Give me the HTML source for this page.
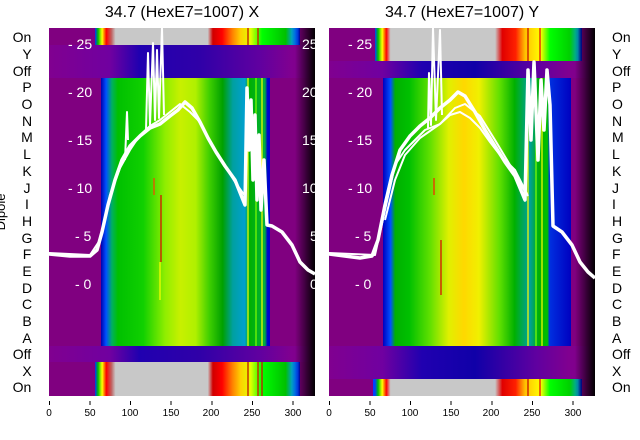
<!DOCTYPE html>
<html><head><meta charset="utf-8"><style>
body{margin:0;background:#fff;}
svg{display:block;font-family:"Liberation Sans","DejaVu Sans",sans-serif;}
</style></head><body>
<svg width="640" height="440" viewBox="0 0 640 440" xmlns="http://www.w3.org/2000/svg">
<defs>
<linearGradient id="lm" gradientUnits="userSpaceOnUse" x1="101" x2="270" y1="0" y2="0">
<stop offset="0" stop-color="#0000b0"/><stop offset="0.03" stop-color="#0050ff"/><stop offset="0.065" stop-color="#00b060"/><stop offset="0.1" stop-color="#00c000"/><stop offset="0.25" stop-color="#10d000"/><stop offset="0.38" stop-color="#90ee00"/><stop offset="0.47" stop-color="#c8f000"/><stop offset="0.56" stop-color="#b0f000"/><stop offset="0.64" stop-color="#40d000"/><stop offset="0.72" stop-color="#00a000"/><stop offset="0.78" stop-color="#00a0a0"/><stop offset="0.85" stop-color="#00a0d0"/><stop offset="0.88" stop-color="#00b000"/><stop offset="0.97" stop-color="#00b040"/><stop offset="0.985" stop-color="#0000d0"/><stop offset="1" stop-color="#0000d0"/>
</linearGradient>
<linearGradient id="lb" gradientUnits="userSpaceOnUse" x1="95" x2="300" y1="0" y2="0">
<stop offset="0" stop-color="#0030ff"/><stop offset="0.015" stop-color="#00c000"/><stop offset="0.035" stop-color="#ffff00"/><stop offset="0.055" stop-color="#ff0000"/><stop offset="0.08" stop-color="#c06060"/><stop offset="0.1" stop-color="#c8c8c8"/><stop offset="0.55" stop-color="#c8c8c8"/><stop offset="0.575" stop-color="#d00000"/><stop offset="0.62" stop-color="#ff0000"/><stop offset="0.67" stop-color="#ff8000"/><stop offset="0.71" stop-color="#ffd000"/><stop offset="0.76" stop-color="#e0ff00"/><stop offset="0.815" stop-color="#00ff00"/><stop offset="0.93" stop-color="#00c000"/><stop offset="0.96" stop-color="#00a0c0"/><stop offset="0.99" stop-color="#0040ff"/><stop offset="1" stop-color="#0000c0"/>
</linearGradient>
<linearGradient id="lo" gradientUnits="userSpaceOnUse" x1="49" x2="315" y1="0" y2="0">
<stop offset="0" stop-color="#800090"/><stop offset="0.23" stop-color="#7000a0"/><stop offset="0.34" stop-color="#2000b0"/><stop offset="0.57" stop-color="#3000a8"/><stop offset="0.79" stop-color="#6000a0"/><stop offset="0.91" stop-color="#800090"/><stop offset="1" stop-color="#800080"/>
</linearGradient>
<linearGradient id="rm" gradientUnits="userSpaceOnUse" x1="383" x2="571" y1="0" y2="0">
<stop offset="0" stop-color="#0000c0"/><stop offset="0.04" stop-color="#0050ff"/><stop offset="0.065" stop-color="#00b000"/><stop offset="0.14" stop-color="#00c000"/><stop offset="0.25" stop-color="#60e000"/><stop offset="0.35" stop-color="#e0f000"/><stop offset="0.43" stop-color="#ffd800"/><stop offset="0.51" stop-color="#f0f000"/><stop offset="0.62" stop-color="#60e000"/><stop offset="0.7" stop-color="#00b000"/><stop offset="0.78" stop-color="#00a0a0"/><stop offset="0.83" stop-color="#00b000"/><stop offset="0.875" stop-color="#00c000"/><stop offset="0.885" stop-color="#0030e0"/><stop offset="1" stop-color="#0000c0"/>
</linearGradient>
<linearGradient id="rb" gradientUnits="userSpaceOnUse" x1="375" x2="582" y1="0" y2="0">
<stop offset="0" stop-color="#0040ff"/><stop offset="0.015" stop-color="#00c000"/><stop offset="0.035" stop-color="#ffff00"/><stop offset="0.055" stop-color="#ff0000"/><stop offset="0.075" stop-color="#c8c8c8"/><stop offset="0.58" stop-color="#c8c8c8"/><stop offset="0.615" stop-color="#e00000"/><stop offset="0.68" stop-color="#ff2000"/><stop offset="0.725" stop-color="#ffc000"/><stop offset="0.8" stop-color="#ffff00"/><stop offset="0.845" stop-color="#00ff00"/><stop offset="0.94" stop-color="#00d000"/><stop offset="0.98" stop-color="#00a0c0"/><stop offset="1" stop-color="#0000c0"/>
</linearGradient>
<linearGradient id="ro" gradientUnits="userSpaceOnUse" x1="329" x2="595" y1="0" y2="0">
<stop offset="0" stop-color="#800090"/><stop offset="0.2" stop-color="#7000a0"/><stop offset="0.35" stop-color="#2000b0"/><stop offset="0.55" stop-color="#1000a8"/><stop offset="0.78" stop-color="#6000a0"/><stop offset="0.9" stop-color="#800090"/><stop offset="1" stop-color="#800080"/>
</linearGradient>
<linearGradient id="blkL" gradientUnits="userSpaceOnUse" x1="295" x2="315" y1="0" y2="0">
<stop offset="0" stop-color="#000" stop-opacity="0"/><stop offset="1" stop-color="#000" stop-opacity="1"/>
</linearGradient>
<linearGradient id="blkR" gradientUnits="userSpaceOnUse" x1="575" x2="595" y1="0" y2="0">
<stop offset="0" stop-color="#000" stop-opacity="0"/><stop offset="1" stop-color="#000" stop-opacity="1"/>
</linearGradient>
<clipPath id="cl"><rect x="49" y="28" width="266" height="368"/></clipPath>
<clipPath id="cr"><rect x="329" y="28" width="266" height="368"/></clipPath>
</defs>

<text x="182" y="17" font-size="16" text-anchor="middle">34.7 (HexE7=1007) X</text>
<text x="462" y="17" font-size="16" text-anchor="middle">34.7 (HexE7=1007) Y</text>

<!-- LEFT PANEL -->
<g clip-path="url(#cl)">
<rect x="49" y="28" width="266" height="368" fill="#800080"/>
<rect x="49" y="45" width="266" height="33" fill="url(#lo)"/>
<rect x="49" y="346" width="266" height="16" fill="url(#lo)"/>
<rect x="95" y="28" width="205" height="17" fill="url(#lb)"/>
<rect x="95" y="362" width="205" height="34" fill="url(#lb)"/>
<rect x="101" y="78" width="169" height="268" fill="url(#lm)"/>
<g stroke-width="1.2">
<line x1="154" y1="178" x2="154" y2="195" stroke="#ff4000"/>
<line x1="161" y1="195" x2="161" y2="262" stroke="#e00000"/>
<line x1="160" y1="262" x2="160" y2="300" stroke="#ffff00"/>
<line x1="248" y1="78" x2="248" y2="346" stroke="#f0ff00"/>
<line x1="256" y1="78" x2="256" y2="346" stroke="#80ff00"/>
<line x1="262" y1="78" x2="262" y2="346" stroke="#ffff00"/>
<line x1="248" y1="362" x2="248" y2="396" stroke="#c00000"/>
<line x1="258" y1="362" x2="258" y2="396" stroke="#e00000"/>
<line x1="262" y1="362" x2="262" y2="396" stroke="#e00000"/>
<line x1="248" y1="28" x2="248" y2="45" stroke="#c00000"/>
<line x1="258" y1="28" x2="258" y2="45" stroke="#e00000"/>
</g>
<rect x="295" y="28" width="20" height="368" fill="url(#blkL)"/>
<g fill="none" stroke="#fff" stroke-width="3.5" stroke-linejoin="round">
<polyline points="49,254 70,256 90,256 97,250 102,232 108,205 115,180 122,160 130,146 140,136 150,128 160,124 170,116 178,110 185,102 192,108 200,122 208,138 216,152 225,166 235,180 245,205 247,88 249,150 251,100 253,180 255,115 257,200 259,135 261,210 264,160 267,225 272,226 282,232 292,245 300,262 308,270 315,274"/>
<polyline points="49,253 90,255 100,240 110,195 120,168 130,150 140,135 150,126 160,120 170,112 180,104 190,112 200,122 215,150 235,182 245,196" stroke-width="2"/>
<polyline points="146,130 148,53 150,125 153,43 155,120 157,50 159,118 162,28 164,115" stroke-width="2"/>
<polyline points="125,160 127,112 128,140" stroke-width="2"/>
</g>
<g fill="#fff" font-size="14">
<text x="68" y="49">- 25</text><text x="68" y="97">- 20</text><text x="68" y="145">- 15</text><text x="68" y="193">- 10</text><text x="75" y="241">- 5</text><text x="75" y="289">- 0</text>
<text x="302" y="49">25</text><text x="302" y="97">20</text><text x="302" y="145">15</text><text x="302" y="193">10</text><text x="310" y="241">5</text><text x="310" y="289">0</text>
</g>
</g>

<!-- RIGHT PANEL -->
<g clip-path="url(#cr)">
<rect x="329" y="28" width="266" height="368" fill="#800080"/>
<rect x="329" y="61" width="266" height="17" fill="url(#ro)"/>
<rect x="329" y="346" width="266" height="33" fill="url(#ro)"/>
<rect x="375" y="28" width="207" height="33" fill="url(#rb)"/>
<rect x="373" y="379" width="209" height="17" fill="url(#rb)"/>
<rect x="383" y="78" width="188" height="268" fill="url(#rm)"/>
<g stroke-width="1.2">
<line x1="434" y1="178" x2="434" y2="195" stroke="#ff2000"/>
<line x1="441" y1="240" x2="441" y2="295" stroke="#e00000"/>
<line x1="528" y1="78" x2="528" y2="346" stroke="#ffff00"/>
<line x1="536" y1="78" x2="536" y2="346" stroke="#80ff00"/>
<line x1="542" y1="78" x2="542" y2="346" stroke="#ffff00"/>
<line x1="528" y1="28" x2="528" y2="61" stroke="#c00000"/>
<line x1="540" y1="28" x2="540" y2="61" stroke="#e00000"/>
<line x1="528" y1="379" x2="528" y2="396" stroke="#c00000"/>
<line x1="540" y1="379" x2="540" y2="396" stroke="#e00000"/>
</g>
<rect x="575" y="28" width="20" height="368" fill="url(#blkR)"/>
<g fill="none" stroke="#fff" stroke-width="3.5" stroke-linejoin="round">
<polyline points="329,254 360,258 372,256 378,240 385,205 392,175 400,150 410,136 420,126 430,118 440,108 450,100 458,92 465,96 475,112 485,130 495,146 505,162 515,176 525,200 528,70 531,140 534,62 538,160 541,80 544,130 547,70 550,105 553,226 562,232 572,245 580,262 588,272 595,278"/>
<polyline points="329,253 375,255 385,210 395,165 405,150 415,140 425,130 440,124 450,115 460,112 470,118 480,128 490,142 500,155 515,170 528,196" stroke-width="2"/>
<polyline points="385,220 395,180 405,155 420,138 440,124 455,108 465,104 480,116 495,140 510,165 525,192" stroke-width="2"/>
<polyline points="428,128 429,73 431,125 433,28 436,120 440,30 442,115" stroke-width="2"/>
</g>
<g fill="#fff" font-size="14">
<text x="348" y="49">- 25</text><text x="348" y="97">- 20</text><text x="348" y="145">- 15</text><text x="348" y="193">- 10</text><text x="355" y="241">- 5</text><text x="355" y="289">- 0</text>
</g>
</g>

<!-- row labels -->
<g font-size="14" fill="#000">
<g text-anchor="middle">
<text x="22" y="42">On</text><text x="27" y="59">Y</text><text x="22" y="76">Off</text><text x="27" y="92">P</text><text x="27" y="109">O</text><text x="27" y="126">N</text><text x="27" y="142">M</text><text x="27" y="159">L</text><text x="27" y="176">K</text><text x="27" y="193">J</text><text x="27" y="209">I</text><text x="27" y="226">H</text><text x="27" y="243">G</text><text x="27" y="259">F</text><text x="27" y="276">E</text><text x="27" y="293">D</text><text x="27" y="309">C</text><text x="27" y="326">B</text><text x="27" y="343">A</text><text x="22" y="359">Off</text><text x="27" y="376">X</text><text x="22" y="392">On</text>
</g>
<g>
<text x="612" y="42">On</text><text x="612" y="59">Y</text><text x="612" y="76">Off</text><text x="612" y="92">P</text><text x="612" y="109">O</text><text x="612" y="126">N</text><text x="612" y="142">M</text><text x="612" y="159">L</text><text x="612" y="176">K</text><text x="612" y="193">J</text><text x="612" y="209">I</text><text x="612" y="226">H</text><text x="612" y="243">G</text><text x="612" y="259">F</text><text x="612" y="276">E</text><text x="612" y="293">D</text><text x="612" y="309">C</text><text x="612" y="326">B</text><text x="612" y="343">A</text><text x="612" y="359">Off</text><text x="612" y="376">X</text><text x="612" y="392">On</text>
</g>
<text x="5" y="212" font-size="13" transform="rotate(-90 5 212)" text-anchor="middle">Dipole</text>
</g>

<!-- x axes -->
<g stroke="#000" stroke-width="1">
<line x1="49.5" y1="401" x2="49.5" y2="405"/><line x1="90" y1="401" x2="90" y2="405"/><line x1="130.5" y1="401" x2="130.5" y2="405"/><line x1="171" y1="401" x2="171" y2="405"/><line x1="212" y1="401" x2="212" y2="405"/><line x1="252.5" y1="401" x2="252.5" y2="405"/><line x1="293" y1="401" x2="293" y2="405"/>
<line x1="329.5" y1="401" x2="329.5" y2="405"/><line x1="370" y1="401" x2="370" y2="405"/><line x1="410.5" y1="401" x2="410.5" y2="405"/><line x1="451" y1="401" x2="451" y2="405"/><line x1="492" y1="401" x2="492" y2="405"/><line x1="532.5" y1="401" x2="532.5" y2="405"/><line x1="573" y1="401" x2="573" y2="405"/>
</g>
<g font-size="10" text-anchor="middle" fill="#000">
<text x="49" y="416">0</text><text x="90" y="416">50</text><text x="130" y="416">100</text><text x="171" y="416">150</text><text x="211" y="416">200</text><text x="252" y="416">250</text><text x="293" y="416">300</text>
<text x="329" y="416">0</text><text x="370" y="416">50</text><text x="410" y="416">100</text><text x="451" y="416">150</text><text x="491" y="416">200</text><text x="532" y="416">250</text><text x="573" y="416">300</text>
</g>
</svg>
</body></html>
